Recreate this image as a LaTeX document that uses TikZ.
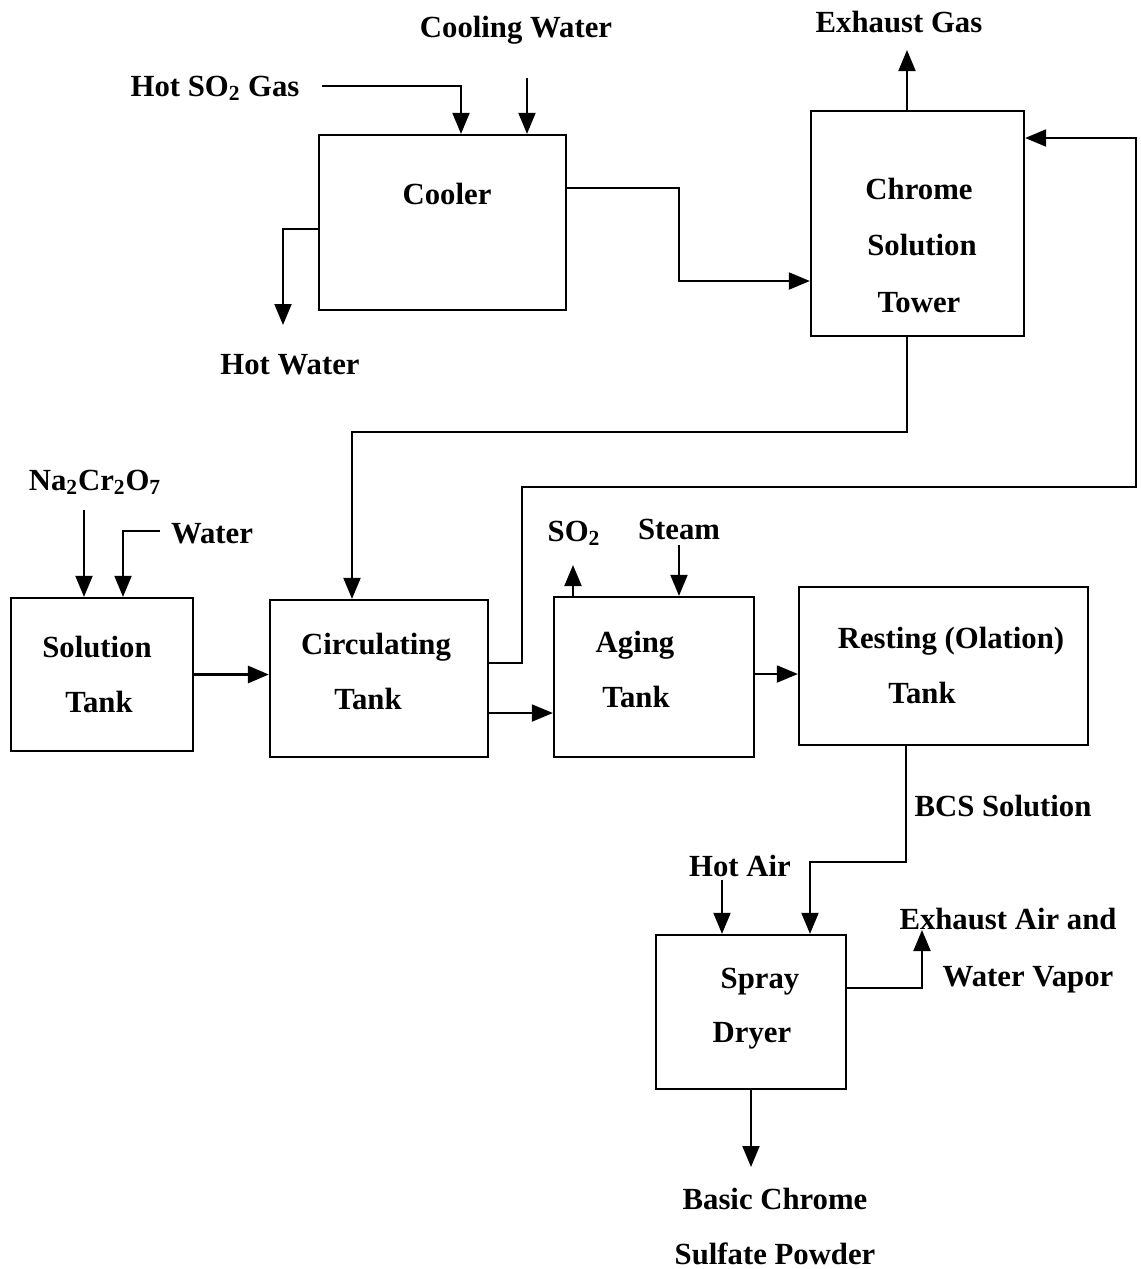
\documentclass[tikz,border=0pt]{standalone}
\usepackage{fontspec}
\setmainfont{Liberation Serif}
\usetikzlibrary{calc, arrows.meta}
\tikzset{
    kasten/.style={draw, line width=1.3pt, inner sep=0pt},
    pfeil/.style={line width=1.1pt, -{Triangle[length=4.2mm,width=3.4mm]}},
    txt/.style={anchor=base, inner sep=0pt, font=\fontsize{17.5}{21}\selectfont\bfseries},
}

\begin{document}
\begin{tikzpicture}[x=0.02cm, y=-0.02cm]
\useasboundingbox (0,0) rectangle (1141,1269);

% Kaesten
\node[kasten, minimum width=4.94cm, minimum height=3.5cm] (cooler) at (442.5,222.5) {};
\node[kasten, minimum width=4.26cm, minimum height=4.5cm] (tower) at (917.5,223.5) {};
\node[kasten, minimum width=3.64cm, minimum height=3.06cm] (soltank) at (102,674.5) {};
\node[kasten, minimum width=4.36cm, minimum height=3.14cm] (circ) at (379,678.5) {};
\node[kasten, minimum width=4.0cm, minimum height=3.2cm] (aging) at (654,677) {};
\node[kasten, minimum width=5.78cm, minimum height=3.16cm] (rest) at (943.5,666) {};
\node[kasten, minimum width=3.8cm, minimum height=3.08cm] (dryer) at (751,1012) {};

% Beschriftung der Kaesten
\node[txt] (coolerlbl) at (447,204) {Cooler};
\node[txt] (towerlbla) at (919,199) {Chrome};
\node[txt] (towerlblb) at (922,255) {Solution};
\node[txt] (towerlblc) at (919,312) {Tower};
\node[txt] (sollbla) at (97,657) {Solution};
\node[txt] (sollblb) at (99,712) {Tank};
\node[txt] (circlbla) at (376,654) {Circulating};
\node[txt] (circlblb) at (368,709) {Tank};
\node[txt] (aginglbla) at (635,652) {Aging};
\node[txt] (aginglblb) at (636,707) {Tank};
\node[txt] (restlbla) at (951,648) {Resting (Olation)};
\node[txt] (restlblb) at (922,703) {Tank};
\node[txt] (dryerlbla) at (760,988) {Spray};
\node[txt] (dryerlblb) at (752,1042) {Dryer};

% Stoffstroeme
\node[txt] (coolwater) at (516,37) {Cooling Water};
\node[txt] (hotgas) at (215,96) {Hot SO\textsubscript{2} Gas};
\node[txt] (exgaslbl) at (899,32) {Exhaust Gas};
\node[txt] (hotwater) at (290,374) {Hot Water};
\node[txt] (na) at (95,490) {Na\textsubscript{2}Cr\textsubscript{2}O\textsubscript{7}};
\node[txt] (water) at (212,543) {Water};
\node[txt] (so2lbl) at (574,541) {SO\textsubscript{2}};
\node[txt] (steam) at (679,539) {Steam};
\node[txt] (bcs) at (1003,816) {BCS Solution};
\node[txt] (hotair) at (740,876) {Hot Air};
\node[txt] (exaira) at (1008,929) {Exhaust Air and};
\node[txt] (exairb) at (1028,986) {Water Vapor};
\node[txt] (powdera) at (775,1209) {Basic Chrome};
\node[txt] (powderb) at (775,1264) {Sulfate Powder};

% freie Enden und Knicke
\coordinate (gasin) at (322,86);
\coordinate (cwin) at (527,78);
\coordinate (hwout) at (283,325);
\coordinate (k1) at (679,235);
\coordinate (exgas) at (907,50);
\coordinate (k2) at (352,432);
\coordinate (k3) at (522,487);
\coordinate (k4) at (1136,487);
\coordinate (naIn) at (84,510);
\coordinate (wIn) at (160,531);
\coordinate (so2out) at (573,565);
\coordinate (stIn) at (679,545);
\coordinate (k5) at (810,862);
\coordinate (haIn) at (722,880);
\coordinate (exair) at (922,930);
\coordinate (powOut) at (751,1167);

% Kuehler
\draw[pfeil] (gasin) -| ($(cooler.north)+(18.5,0)$);
\draw[pfeil] (cwin) -- (cwin |- cooler.north);
\draw[pfeil] ($(cooler.west)+(0,6.5)$) -| (hwout);
\draw[pfeil] ($(cooler.east)+(0,-34.5)$) -| (k1) |- ($(tower.west)+(0,57.5)$);

% Turm
\draw[pfeil] (exgas |- tower.north) -- (exgas);
\draw[pfeil] ($(tower.south)+(-10.5,0)$) |- (k2) -- (k2 |- circ.north);
\draw[pfeil] ($(circ.east)+(0,-15.5)$) -| (k3) -- (k4) |- ($(tower.east)+(0,-85.5)$);

% Tanks
\draw[pfeil] (naIn) -- (naIn |- soltank.north);
\draw[pfeil] (wIn) -| ($(soltank.north)+(21,0)$);
\draw[pfeil, line width=1.8pt] (soltank.east) -- (soltank.east -| circ.west);
\draw[pfeil] ($(circ.east)+(0,34.5)$) coordinate (c5) -- (c5 -| aging.west);
\draw[pfeil] (so2out |- aging.north) -- (so2out);
\draw[pfeil] (stIn) -- (stIn |- aging.north);
\draw[pfeil] ($(aging.east)+(0,-3)$) coordinate (c6) -- (c6 -| rest.west);

% Trockner
\draw[pfeil] ($(rest.south)+(-37.5,0)$) |- (k5) -- (k5 |- dryer.north);
\draw[pfeil] (haIn) -- (haIn |- dryer.north);
\draw[pfeil] ($(dryer.east)+(0,-24)$) -| (exair);
\draw[pfeil] (dryer.south) -- (powOut);

\end{tikzpicture}
\end{document}
